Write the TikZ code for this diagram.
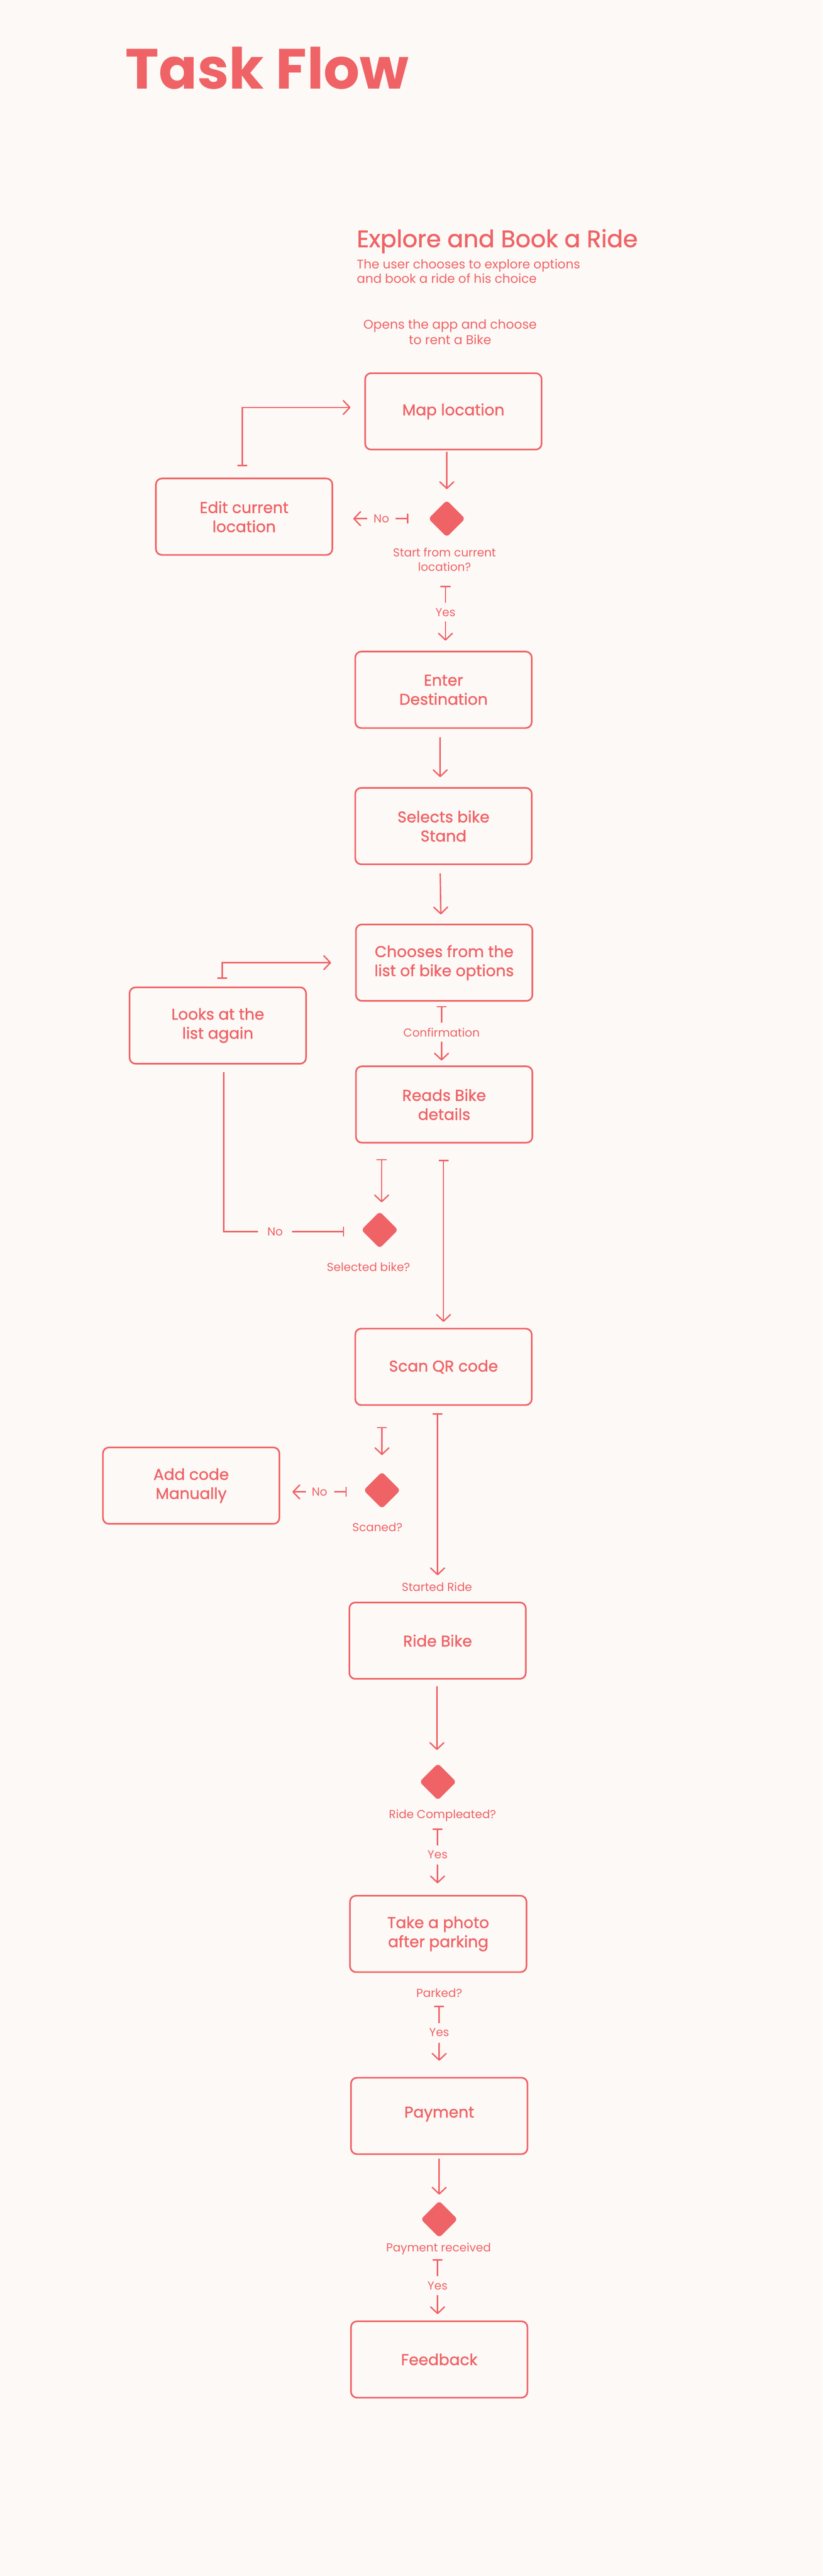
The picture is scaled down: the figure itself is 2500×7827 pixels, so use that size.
\documentclass[tikz,border=0pt]{standalone}
\usepackage{fontspec}
\setmainfont{Poppins}
\newfontfamily\medfont{Poppins}[FakeBold=1.2]
\usetikzlibrary{arrows.meta,shapes.geometric,calc}
\definecolor{cr}{HTML}{EF6366}
\definecolor{bg}{HTML}{FDF9F6}
\begin{document}
\begin{tikzpicture}[x=0.01cm,y=-0.01cm,
 box/.style={draw=cr,line width=1.4pt,rounded corners=0.18cm,minimum width=5.36cm,minimum height=2.32cm,text=cr,font=\medfont\fontsize{13.5}{16.5}\selectfont,align=center,inner sep=0},
 dia/.style={diamond,fill=cr,draw=none,rounded corners=0.1cm,minimum width=1.12cm,minimum height=1.12cm,inner sep=0},
 lbl/.style={text=cr,font=\fontsize{10}{12.5}\selectfont,align=center,inner sep=0},
 ln/.style={draw=cr,line width=1.2pt},
 arr/.style={ln,-{Straight Barb[length=0.2cm,width=0.42cm,line width=1.2pt,round]}},
 barr/.style={ln,{Bar[width=0.3cm,line width=1.2pt]}-{Straight Barb[length=0.2cm,width=0.42cm,line width=1.2pt,round]}},
 bar/.style={ln,{Bar[width=0.3cm,line width=1.2pt]}-},
]
\fill[bg] (0,0) rectangle (2500,7827);
\useasboundingbox (0,0) rectangle (2500,7827);

% titles
\node[anchor=base west,text=cr,font=\fontsize{49}{50}\selectfont\bfseries,inner sep=0] (title) at (380,270) {Task Flow};
\node[anchor=base west,text=cr,font=\medfont\fontsize{20.5}{24}\selectfont,inner sep=0] (head) at (1084,751) {Explore and Book a Ride};
\node[anchor=north west,text=cr,font=\fontsize{10.8}{12.5}\selectfont,align=left,inner sep=0] (desc) at (1084,786) {The user chooses to explore options\\and book a ride of his choice};
\node[lbl,font=\fontsize{11}{13}\selectfont] (open) at (1368,1009) {Opens the app and choose\\to rent a Bike};

% boxes
\node[box] (map) at (1378,1250) {Map location};
\node[box] (edit) at (742,1570) {Edit current\\location};
\node[box] (enter) at (1348,2096) {Enter\\Destination};
\node[box] (stand) at (1348,2510) {Selects bike\\Stand};
\node[box] (choose) at (1350,2925) {Chooses from the\\list of bike options};
\node[box] (looks) at (662,3116) {Looks at the\\list again};
\node[box] (reads) at (1350,3356) {Reads Bike\\details};
\node[box] (scan) at (1348,4153) {Scan QR code};
\node[box] (add) at (581,4514) {Add code\\Manually};
\node[box] (ride) at (1330,4985) {Ride Bike};
\node[box] (photo) at (1332,5876) {Take a photo\\after parking};
\node[box] (pay) at (1335,6429) {\raisebox{0.23cm}{Payment}};
\node[box] (feed) at (1335,7169) {Feedback};

% diamonds
\node[dia] (d1) at (1358,1576) {};
\node[dia] (d2) at (1154,3737) {};
\node[dia] (d3) at (1161,4528) {};
\node[dia] (d4) at (1331,5414) {};
\node[dia] (d6) at (1335,6743) {};

% diamond labels
\node[lbl] (q1) at ($(d1.south)+(-7,68)$) {Start from current\\location?};
\node[lbl] (q2) at ($(d2.south)+(-34,55)$) {Selected bike?};
\node[lbl] (q3) at ($(d3.south)+(-14,55)$) {Scaned?};
\node[lbl] (q4) at ($(d4.south)+(14,45)$) {Ride Compleated?};
\node[lbl] (q5) at ($(photo.south)+(3,61)$) {Parked?};
\node[lbl] (q6) at ($(d6.south)+(-2,33)$) {Payment received};

% map -> d1
\draw[arr] ($(map.south-|d1)+(0,4)$) -- ($(d1.north)+(0,-33)$);
% d1 no -> edit
\draw[bar] ($(d1.west)+(-60,0)$) -- ($(d1.west)+(-99,0)$);
\node[lbl] (no1) at ($(d1.west)+(-142,0)$) {No};
\draw[arr] ($(edit.east|-d1)+(104,0)$) -- ($(edit.east|-d1)+(61,0)$);
% edit -> map
\draw[barr] ($(edit.north)+(-5,-35)$) |- ($(map.west)+(-42,-12)$);
% d1 yes -> enter
\draw[bar] ($(d1.south)+(-4,147)$) -- ($(d1.south)+(-4,199)$);
\node[lbl] (yes1) at ($(d1.south)+(-4,228)$) {Yes};
\draw[arr] ($(enter.north)+(6,-89)$) -- ($(enter.north)+(6,-31)$);
% enter -> stand -> choose
\draw[arr] ($(enter.south)+(-10,25)$) -- ($(stand.north)+(-10,-30)$);
\draw[arr] ($(stand.south)+(-10,25)$) -- ($(choose.north)+(-10,-28)$);
% looks -> choose
\draw[barr] ($(looks.north)+(14,-23)$) |- ($(choose.west)+(-73,0)$);
% choose -> reads
\draw[bar] ($(choose.south)+(-8,13)$) -- ($(choose.south)+(-8,64)$);
\node[lbl] (conf) at ($(choose.south)+(-8,94)$) {Confirmation};
\draw[arr] ($(reads.north)+(-8,-72)$) -- ($(reads.north)+(-8,-15)$);
% reads -> d2
\draw[barr] ($(reads.south-|d2)+(6,47)$) -- ($(d2.north)+(6,-27)$);
% d2 no -> looks
\draw[bar] ($(d2.west)+(-51,5)$) -- ($(d2.west)+(-210,5)$);
\node[lbl] (no2) at ($(d2.west)+(-261,5)$) {No};
\draw[ln] ($(d2.west)+(-313,5)$) -| ($(looks.south)+(18,23)$);
% reads -> scan
\draw[barr] ($(reads.south)+(-2,49)$) -- ($(scan.north)+(0,-18)$);
% scan -> d3
\draw[barr] ($(scan.south-|d3)+(0,64)$) -- ($(d3.north)+(0,-50)$);
% d3 no -> add
\draw[bar] ($(d3.west)+(-50,5)$) -- ($(d3.west)+(-89,5)$);
\node[lbl] (no3) at ($(d3.west)+(-133,5)$) {No};
\draw[arr] ($(add.east|-d3)+(79,5)$) -- ($(add.east|-d3)+(37,5)$);
% scan -> ride
\draw[barr] ($(scan.south)+(-18,23)$) -- ($(ride.north)+(0,-80)$);
\node[lbl] (start) at ($(ride.north)+(-2,-45)$) {Started Ride};
% ride -> d4
\draw[arr] ($(ride.south)+(-2,20)$) -- ($(d4.north)+(-3,-40)$);
% d4 yes -> photo
\draw[bar] ($(d4.south)+(-1,85)$) -- ($(d4.south)+(-1,137)$);
\node[lbl] (yes2) at ($(d4.south)+(-1,165)$) {Yes};
\draw[arr] ($(photo.north)+(-2,-92)$) -- ($(photo.north)+(-2,-35)$);
% photo yes -> pay
\draw[bar] ($(photo.south)+(3,100)$) -- ($(photo.south)+(3,152)$);
\node[lbl] (yes3) at ($(photo.south)+(3,181)$) {Yes};
\draw[arr] ($(pay.north)+(0,-104)$) -- ($(pay.north)+(0,-49)$);
% pay -> d6
\draw[arr] ($(pay.south)+(0,12)$) -- ($(d6.north)+(0,-18)$);
% d6 yes -> feed
\draw[bar] ($(d6.south)+(-5,65)$) -- ($(d6.south)+(-5,116)$);
\node[lbl] (yes4) at ($(d6.south)+(-5,146)$) {Yes};
\draw[arr] ($(feed.north)+(-5,-77)$) -- ($(feed.north)+(-5,-19)$);
\end{tikzpicture}
\end{document}
